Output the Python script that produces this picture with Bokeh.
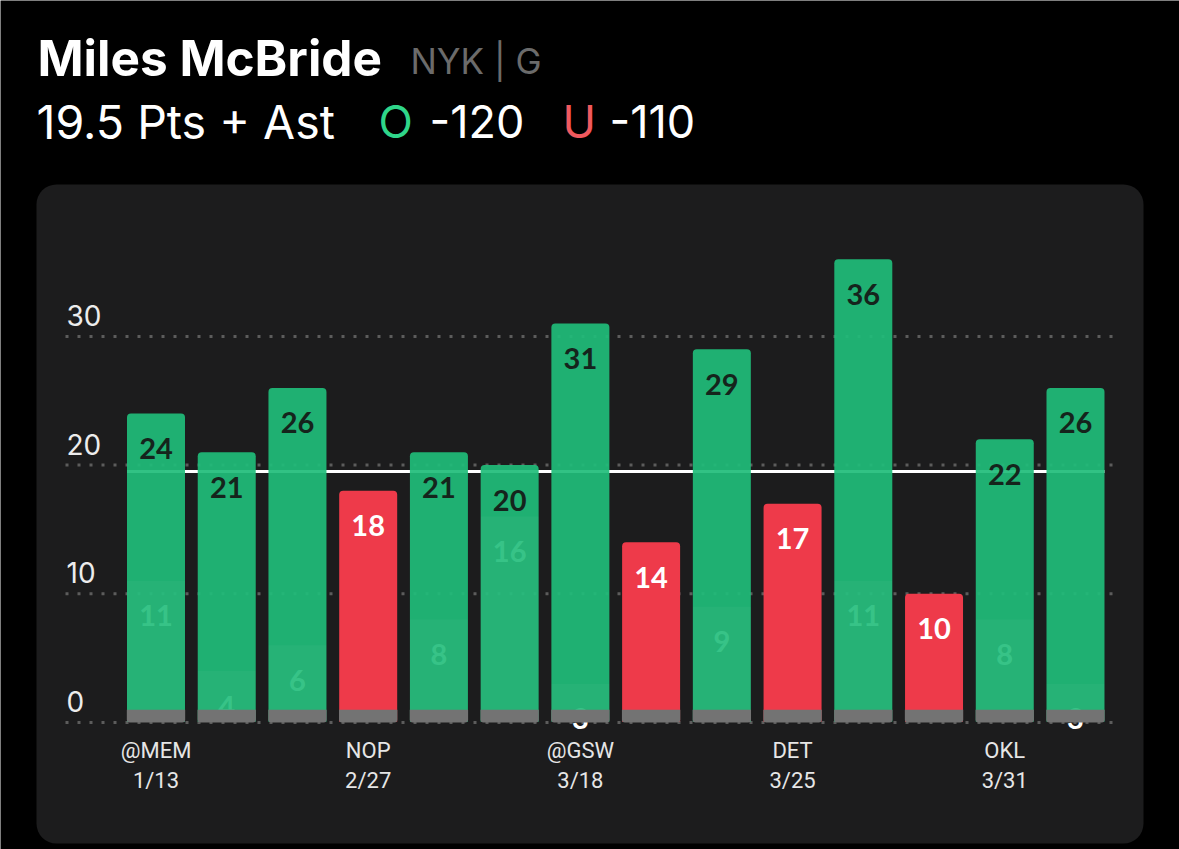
from bokeh.plotting import figure
from bokeh.models import Range1d, BoxAnnotation, ColumnDataSource
from bokeh.core.properties import value
from bokeh.embed import file_html
from bokeh.resources import INLINE

# ---------------- data ----------------
player = "Miles McBride"
team_pos = "NYK | G"
market = "19.5 Pts + Ast"
line_value = 19.5
over_odds = "-120"
under_odds = "-110"

totals = [24, 21, 26, 18, 21, 20, 31, 14, 29, 17, 36, 10, 22, 26]
inner = [11, 4, 6, None, 8, 16, 3, None, 9, None, 11, None, 8, 3]
tick_idx = [0, 3, 6, 9, 12]
tick_opp = ["@MEM", "NOP", "@GSW", "DET", "OKL"]
tick_date = ["1/13", "2/27", "3/18", "3/25", "3/31"]
y_ticks = [0, 10, 20, 30]

# ---------------- geometry helpers (reference pixels -> data) ----------------
W, H = 1179, 849
PX_X = 70.73
X0 = 155.5
PX_Y = 12.87
Y0 = 722.0


def xd(px):
    return (px - X0) / PX_X


def yd(py):
    return (Y0 - py) / PX_Y


GREEN = "#20bd79"
RED = "#ee3a4a"
GRAY_BAND = "#737373"
PANEL = "#1c1c1d"
GRID = "#5c5c5c"
NUM_FONT = value("Lato")
TXT_FONT = value("Inter")

p = figure(width=W, height=H, output_backend="svg", toolbar_location=None,
           x_range=Range1d(xd(0), xd(W)), y_range=Range1d(yd(H), yd(0)),
           min_border=0, min_border_left=0, min_border_right=0,
           min_border_top=0, min_border_bottom=0)
p.xaxis.visible = False
p.yaxis.visible = False
p.grid.visible = False
p.background_fill_color = "black"
p.border_fill_color = "black"
p.outline_line_color = None

# panel
p.add_layout(BoxAnnotation(left=xd(36), right=xd(1143), top=yd(184), bottom=yd(843),
                           fill_color=PANEL, fill_alpha=1, line_color=None,
                           border_radius=20, level="underlay"))

n = len(totals)
xs = list(range(n))
is_over = [t > line_value for t in totals]
colors = [GREEN if o else RED for o in is_over]
alphas = [0.92 if o else 1.0 for o in is_over]

# grid lines (dotted)
gx0, gx1 = xd(65), xd(1115)
p.segment(x0=[gx0] * len(y_ticks), x1=[gx1] * len(y_ticks), y0=y_ticks, y1=y_ticks,
          line_color=GRID, line_width=3, line_dash="3 9", line_cap="butt")

# threshold line
p.segment(x0=[-0.41], x1=[n - 1 + 0.41], y0=[line_value], y1=[line_value],
          line_color="white", line_width=3)

# inner labels (behind translucent bars)
ix = [x for x, v in zip(xs, inner) if v is not None]
iv = [v for v in inner if v is not None]
off = 35 / PX_Y
p.text(x=ix, y=[v - off for v in iv], text=[str(v) for v in iv],
       text_color="white", text_font=NUM_FONT, text_font_style="bold",
       text_font_size="29px", text_align="center", text_baseline="middle")

# bars
src = ColumnDataSource(dict(x=xs, top=totals, color=colors, alpha=alphas))
p.vbar(x="x", top="top", bottom=0.05, width=0.82, source=src, fill_color="color",
       fill_alpha="alpha", line_color=None, border_radius=(4, 4, 0, 0))

# lighter inner band
p.vbar(x=ix, top=iv, bottom=0.05, width=0.82, fill_color="white", fill_alpha=0.03,
       line_color=None)

# gray base band
p.vbar(x=xs, top=[1.0] * n, bottom=0, width=0.825, fill_color=GRAY_BAND,
       line_color=None, border_radius=(0, 0, 3, 3))

# value labels
lab_colors = ["#15241c" if o else "white" for o in is_over]
p.text(x=xs, y=[t - off for t in totals], text=[str(t) for t in totals],
       text_color=lab_colors, text_font=NUM_FONT, text_font_style="bold",
       text_font_size="29px", text_align="center", text_baseline="middle")

# y tick labels
p.text(x=[xd(66)] * len(y_ticks), y=[t + 21 / PX_Y for t in y_ticks],
       text=[str(t) for t in y_ticks], text_color="#ececec", text_font=TXT_FONT,
       text_font_size="28px", text_align="left", text_baseline="middle")

# x tick labels
p.text(x=tick_idx, y=[yd(750)] * len(tick_idx), text=tick_opp, text_color="#e6e6e6",
       text_font=value("Roboto"), text_font_size="22px", text_align="center",
       text_baseline="middle")
p.text(x=tick_idx, y=[yd(780)] * len(tick_idx), text=tick_date, text_color="#e6e6e6",
       text_font=value("Roboto"), text_font_size="22px", text_align="center",
       text_baseline="middle")


# header
def head(px, py, txt, color, size, style="normal"):
    p.text(x=[xd(px)], y=[yd(py)], text=[txt], text_color=color, text_font=TXT_FONT,
           text_font_size=size, text_font_style=style, text_align="left",
           text_baseline="middle")


head(37, 57, player, "white", "49.5px", "bold")
head(410, 60, team_pos, "#6b6b6b", "35px")
head(36, 121, market, "white", "46.5px")
head(378, 121, "O", "#2fd68a", "45px")
head(429, 121, over_odds, "white", "45px")
head(562, 121, "U", "#f0595e", "45px")
head(609, 121, under_odds, "white", "45px")

open("out.html", "w").write(file_html(p, INLINE))
